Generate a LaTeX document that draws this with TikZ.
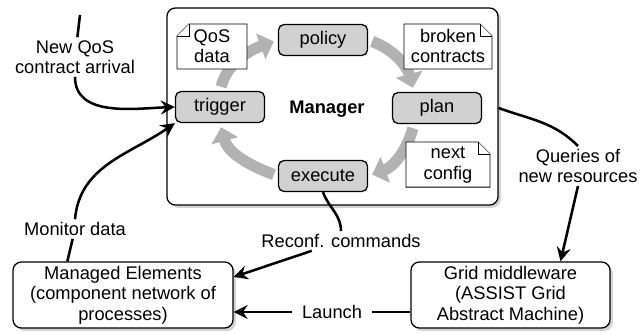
\documentclass[tikz,border=0pt]{standalone}
\usepackage{fontspec}
\setmainfont{Liberation Sans}
\usetikzlibrary{arrows.meta}
\usetikzlibrary{shadows}
\usetikzlibrary{calc}

\begin{document}
\begin{tikzpicture}[x=0.025cm, y=0.025cm, font=\fontsize{13}{14.5}\selectfont]
    \tikzset{>={Stealth[length=10pt,width=10pt,inset=3.5pt]}}
    \tikzset{
        conn/.style={line width=1.8pt},
        phase/.style={draw, line width=0.9pt, rounded corners=4pt, fill=black!18,
            minimum width=2.225cm, minimum height=0.775cm, inner sep=0pt},
        bigbox/.style={draw, line width=0.9pt, rounded corners=6pt, fill=white,
            inner sep=0pt, align=center,
            drop shadow={shadow xshift=2pt, shadow yshift=-2pt, opacity=0.35}},
        doc/.style={draw, line width=0.7pt, fill=white},
        loopflow/.style={line width=8pt, black!30, shorten >=3pt, shorten <=3pt,
            -{Triangle[width=19pt,length=10pt]}},
        lbl/.style={align=center, inner sep=2pt}
    }
    \useasboundingbox (0,0) rectangle (640,-332);

    % The manager and its loop
    \node[bigbox, minimum width=8.275cm, minimum height=4.925cm] (manager) at (332.5,-106.5) {};
    \node (mgrlabel) at (327,-109) {\textbf{Manager}};

    \node[phase] (policy) at (323,-40) {policy};
    \node[phase] (trigger) at (220,-107) {trigger};
    \node[phase] (plan) at (437,-108) {plan};
    \node[phase] (execute) at (323,-176) {execute};

    \draw[loopflow] (trigger.north) to[out=75,in=200] (policy.west);
    \draw[loopflow] (policy.east) to[out=-20,in=105] (plan.145);
    \draw[loopflow] (plan.215) to[out=-105,in=20] (execute.east);
    \draw[loopflow] (execute.west) to[out=160,in=-75] (trigger.south);

    % Notes with a folded corner
    \draw[doc] (177,-36) -- (189,-24) -- (247,-24) -- (247,-69) -- (177,-69) -- cycle;
    \draw[doc] (177,-36) -- (189,-36) -- (189,-24);
    \node[lbl] (qosdata) at (212,-46) {QoS\\data};

    \draw[doc] (404,-24) -- (480,-24) -- (492,-36) -- (492,-69) -- (404,-69) -- cycle;
    \draw[doc] (480,-24) -- (480,-36) -- (492,-36);
    \node[lbl] (broken) at (448,-46) {broken\\contracts};

    \draw[doc] (406,-142) -- (478,-142) -- (490,-154) -- (490,-187) -- (406,-187) -- cycle;
    \draw[doc] (478,-142) -- (478,-154) -- (490,-154);
    \node[lbl] (nextcfg) at (448,-165) {next\\config};

    % Outer boxes
    \node[bigbox, minimum width=5.5cm, minimum height=1.65cm] (managed) at (123,-295)
        {Managed Elements\\(component network of\\processes)};
    \node[bigbox, minimum width=4.975cm, minimum height=1.65cm] (grid) at (510.5,-295)
        {Grid middleware\\(ASSIST Grid\\Abstract Machine)};

    % Connectors and their labels
    \coordinate (qtop) at (80,-15);
    \node[lbl] (newqos) at (75,-57) {New QoS\\contract arrival};
    \draw[conn] (qtop) -- (newqos);
    \draw[conn,->] (newqos.south) to[out=-90,in=182] (trigger.west);

    \node[lbl] (monitor) at (75,-229) {Monitor data};
    \draw[conn] ($(managed.north west)+(55,0)$) -- (monitor);
    \draw[conn,->] (monitor.north) to[out=85,in=215] (trigger.south west);

    \node[lbl] (queries) at (578,-166) {Queries of\\new resources};
    \draw[conn] (manager.east |- plan) to[out=-20,in=135] (queries.north);
    \draw[conn,->] (queries.south) -- ($(grid.north)+(50,0)$);

    \node[lbl] (reconf) at (341,-241) {Reconf. commands};
    \draw[conn] (execute.south) to[out=-70,in=90] (reconf.north);
    \draw[conn,->] (reconf) -- ($(managed.east)+(0,18)$);

    \node[lbl, inner sep=7pt] (launch) at (332,-312) {Launch};
    \draw[conn] (grid.west |- launch) -- (launch);
    \draw[conn,->] (launch) -- (launch -| managed.east);
\end{tikzpicture}
\end{document}
